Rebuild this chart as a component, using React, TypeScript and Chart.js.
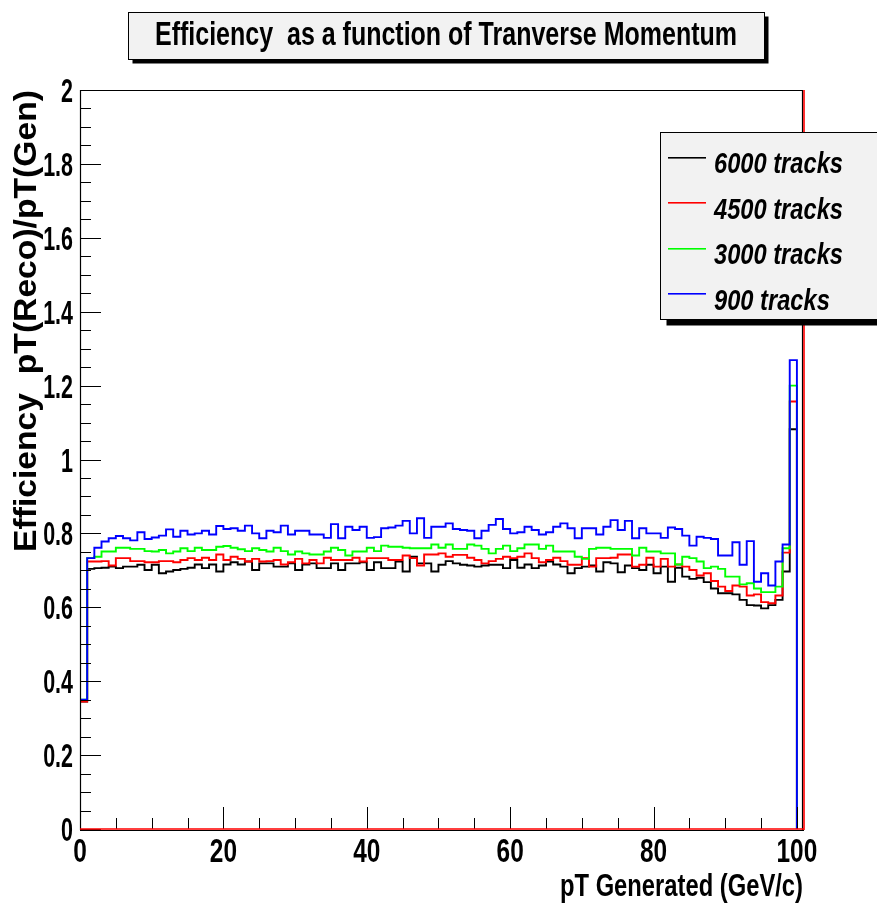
import React, { useEffect, useRef } from "react";
import { Chart, registerables } from "chart.js";

Chart.register(...registerables);

// ---------- data ----------
const seriesLabels = ["6000 tracks", "4500 tracks", "3000 tracks", "900 tracks"];
const seriesColors = ["#000000", "#ff0000", "#00ff00", "#0000ff"];

// efficiency per 1 GeV/c bin, bins 0..99
const eff6000 = [
  0.345, 0.704, 0.706, 0.707, 0.710, 0.706, 0.710, 0.710, 0.715, 0.701,
  0.715, 0.692, 0.697, 0.701, 0.704, 0.707, 0.716, 0.706, 0.716, 0.697,
  0.716, 0.722, 0.716, 0.724, 0.701, 0.719, 0.719, 0.710, 0.710, 0.719,
  0.701, 0.716, 0.719, 0.706, 0.706, 0.719, 0.701, 0.719, 0.719, 0.722,
  0.701, 0.722, 0.706, 0.706, 0.724, 0.697, 0.737, 0.719, 0.719, 0.697,
  0.715, 0.725, 0.719, 0.715, 0.713, 0.710, 0.713, 0.715, 0.715, 0.706,
  0.728, 0.707, 0.716, 0.706, 0.713, 0.724, 0.716, 0.710, 0.692, 0.706,
  0.710, 0.713, 0.697, 0.722, 0.719, 0.695, 0.713, 0.706, 0.701, 0.715,
  0.692, 0.710, 0.669, 0.707, 0.683, 0.677, 0.680, 0.668, 0.651, 0.638,
  0.638, 0.635, 0.620, 0.606, 0.605, 0.597, 0.606, 0.620, 0.697, 1.082,
];
const eff4500 = [
  0.345, 0.724, 0.724, 0.725, 0.713, 0.733, 0.733, 0.725, 0.725, 0.722,
  0.722, 0.725, 0.725, 0.722, 0.728, 0.733, 0.728, 0.734, 0.728, 0.743,
  0.728, 0.737, 0.731, 0.724, 0.731, 0.724, 0.725, 0.728, 0.716, 0.722,
  0.731, 0.719, 0.728, 0.719, 0.734, 0.728, 0.728, 0.728, 0.734, 0.724,
  0.733, 0.733, 0.733, 0.728, 0.728, 0.740, 0.733, 0.713, 0.743, 0.743,
  0.746, 0.737, 0.742, 0.742, 0.734, 0.728, 0.719, 0.725, 0.731, 0.737,
  0.733, 0.737, 0.746, 0.733, 0.722, 0.728, 0.734, 0.725, 0.715, 0.715,
  0.733, 0.710, 0.733, 0.733, 0.734, 0.743, 0.743, 0.710, 0.715, 0.734,
  0.710, 0.731, 0.710, 0.716, 0.710, 0.701, 0.686, 0.692, 0.671, 0.656,
  0.644, 0.659, 0.656, 0.632, 0.635, 0.614, 0.611, 0.632, 0.748, 1.157,
];
const eff3000 = [
  0.350, 0.733, 0.737, 0.751, 0.751, 0.761, 0.761, 0.758, 0.758, 0.752,
  0.751, 0.755, 0.746, 0.751, 0.760, 0.752, 0.761, 0.755, 0.755, 0.764,
  0.766, 0.761, 0.757, 0.752, 0.760, 0.755, 0.751, 0.761, 0.752, 0.743,
  0.751, 0.746, 0.743, 0.743, 0.751, 0.761, 0.755, 0.740, 0.751, 0.751,
  0.761, 0.752, 0.767, 0.764, 0.764, 0.761, 0.760, 0.760, 0.760, 0.770,
  0.761, 0.770, 0.758, 0.758, 0.770, 0.767, 0.758, 0.746, 0.758, 0.767,
  0.752, 0.760, 0.770, 0.770, 0.758, 0.767, 0.751, 0.751, 0.751, 0.737,
  0.731, 0.758, 0.761, 0.761, 0.758, 0.758, 0.758, 0.740, 0.761, 0.751,
  0.751, 0.746, 0.746, 0.716, 0.737, 0.733, 0.724, 0.706, 0.710, 0.704,
  0.683, 0.683, 0.662, 0.665, 0.651, 0.641, 0.641, 0.656, 0.760, 1.200,
];
const eff900 = [
  0.350, 0.733, 0.761, 0.778, 0.787, 0.793, 0.787, 0.781, 0.803, 0.785,
  0.789, 0.794, 0.811, 0.791, 0.807, 0.797, 0.800, 0.807, 0.797, 0.820,
  0.812, 0.814, 0.807, 0.821, 0.800, 0.787, 0.807, 0.803, 0.821, 0.797,
  0.807, 0.807, 0.797, 0.797, 0.788, 0.825, 0.787, 0.818, 0.809, 0.818,
  0.788, 0.790, 0.814, 0.816, 0.821, 0.834, 0.800, 0.841, 0.788, 0.818,
  0.818, 0.827, 0.812, 0.809, 0.807, 0.787, 0.807, 0.823, 0.839, 0.812,
  0.800, 0.803, 0.818, 0.809, 0.797, 0.803, 0.818, 0.827, 0.814, 0.787,
  0.814, 0.814, 0.797, 0.818, 0.836, 0.809, 0.834, 0.787, 0.814, 0.800,
  0.800, 0.788, 0.816, 0.812, 0.794, 0.767, 0.791, 0.788, 0.785, 0.740,
  0.740, 0.776, 0.715, 0.779, 0.669, 0.692, 0.659, 0.724, 0.770, 1.269,
];

const xTickValues = [0, 20, 40, 60, 80, 100];
const yTickValues = [0, 0.2, 0.4, 0.6, 0.8, 1, 1.2, 1.4, 1.6, 1.8, 2];
const xAxisMax = 100.85;

const titleText = "Efficiency  as a function of Tranverse Momentum";
const xTitleText = "pT Generated (GeV/c)";
const yTitleText = "Efficiency  pT(Reco)/pT(Gen)";

// ---------- helpers ----------
const FONT_SANS = "'Liberation Sans',Arial,'DejaVu Sans',sans-serif";
const TICK_FONT = `bold 33px ${FONT_SANS}`;
const Y_TICK_SCALE = 0.65;
const X_TICK_SCALE = 0.74;

function toSteps(values: number[]) {
  const pts: { x: number; y: number }[] = [{ x: 0, y: 0 }];
  values.forEach((v, i) => pts.push({ x: i, y: v }));
  pts.push({ x: values.length, y: 0 });
  return pts;
}

function fmtTick(v: number) {
  return String(Number(v.toFixed(2)));
}

function fitText(
  ctx: CanvasRenderingContext2D,
  text: string,
  x: number,
  y: number,
  width: number,
  font: string,
  align: "left" | "right" | "center" = "left"
) {
  ctx.save();
  ctx.font = font;
  const w = ctx.measureText(text).width;
  const s = width / w;
  ctx.translate(x, y);
  ctx.scale(s, 1);
  ctx.textAlign = "left";
  ctx.textBaseline = "alphabetic";
  const x0 = align === "right" ? -w : align === "center" ? -w / 2 : 0;
  ctx.fillText(text, x0, 0);
  ctx.restore();
}

function scaledText(
  ctx: CanvasRenderingContext2D,
  text: string,
  x: number,
  y: number,
  sx: number,
  font: string,
  align: "left" | "right" | "center"
) {
  ctx.save();
  ctx.font = font;
  const w = ctx.measureText(text).width;
  fitText(ctx, text, x, y, w * sx, font, align);
  ctx.restore();
}

const rootDecor = {
  id: "rootDecor",
  beforeDraw(chart: any) {
    const { ctx, width, height } = chart;
    ctx.save();
    ctx.fillStyle = "#ffffff";
    ctx.fillRect(0, 0, width, height);
    ctx.restore();
  },
  afterDraw(chart: any) {
    const { ctx, chartArea: a } = chart;
    const xs = chart.scales.x;
    const ys = chart.scales.y;
    ctx.save();

    // ticks inside the frame
    ctx.strokeStyle = "#000";
    ctx.lineWidth = 1;
    ctx.beginPath();
    for (let k = 0; k <= 40; k++) {
      const py = Math.round(ys.getPixelForValue(k * 0.05)) + 0.5;
      const len = k % 4 === 0 ? 21 : 11;
      ctx.moveTo(a.left, py);
      ctx.lineTo(a.left + len, py);
    }
    for (let k = 0; k <= 20; k++) {
      const px = Math.round(xs.getPixelForValue(k * 5)) + 0.5;
      const len = k % 4 === 0 ? 22 : 11;
      ctx.moveTo(px, a.bottom);
      ctx.lineTo(px, a.bottom - len);
    }
    ctx.stroke();

    // frame
    ctx.lineWidth = 1.2;
    ctx.strokeStyle = "#000";
    ctx.beginPath();
    ctx.moveTo(a.left + 0.5, a.bottom + 1);
    ctx.lineTo(a.left + 0.5, a.top + 0.5);
    ctx.lineTo(a.right - 0.5, a.top + 0.5);
    ctx.lineTo(a.right - 0.5, a.bottom + 1);
    ctx.moveTo(a.left, a.bottom + 1.5);
    ctx.lineTo(a.right + 1, a.bottom + 1.5);
    ctx.stroke();
    ctx.strokeStyle = "#ff0000";
    ctx.lineWidth = 1.6;
    ctx.beginPath();
    ctx.moveTo(a.right + 1, a.top);
    ctx.lineTo(a.right + 1, a.bottom + 1);
    ctx.moveTo(a.left, a.bottom);
    ctx.lineTo(a.right + 1.5, a.bottom);
    ctx.stroke();

    // tick labels
    ctx.fillStyle = "#000";
    ys.ticks.forEach((t: any) => {
      const py = ys.getPixelForValue(t.value);
      scaledText(ctx, fmtTick(t.value), a.left - 7, py + 12, Y_TICK_SCALE, TICK_FONT, "right");
    });
    xs.ticks.forEach((t: any) => {
      const px = xs.getPixelForValue(t.value);
      scaledText(ctx, fmtTick(t.value), px, a.bottom + 33, X_TICK_SCALE, TICK_FONT, "center");
    });

    // x axis title (right aligned at frame end)
    fitText(ctx, xTitleText, a.right, 896, 243, `bold 31px ${FONT_SANS}`, "right");

    // y axis title (rotated, top aligned at frame top)
    ctx.save();
    ctx.translate(36, 552);
    ctx.rotate(-Math.PI / 2);
    fitText(ctx, yTitleText, 0, 0, 462, `bold 31px ${FONT_SANS}`, "left");
    ctx.restore();

    // title box
    const tb = { x: 128.5, y: 12.5, w: 636, h: 47 };
    ctx.fillStyle = "#000";
    ctx.fillRect(tb.x + 4, tb.y + 4, tb.w, tb.h);
    ctx.fillStyle = "#f2f2f2";
    ctx.fillRect(tb.x, tb.y, tb.w, tb.h);
    ctx.strokeStyle = "#000";
    ctx.lineWidth = 1;
    ctx.strokeRect(tb.x, tb.y, tb.w, tb.h);
    ctx.fillStyle = "#000";
    fitText(ctx, titleText, 155, 45, 582, `bold 34px ${FONT_SANS}`, "left");

    // legend
    const lb = { x: 660.5, y: 132.5, w: 230, h: 187 };
    ctx.fillStyle = "#000";
    ctx.fillRect(lb.x + 6, lb.y + 6, lb.w, lb.h);
    ctx.fillStyle = "#f2f2f2";
    ctx.fillRect(lb.x, lb.y, lb.w, lb.h);
    ctx.strokeStyle = "#000";
    ctx.lineWidth = 1;
    ctx.strokeRect(lb.x, lb.y, lb.w, lb.h);

    const legFont = `italic bold 30px ${FONT_SANS}`;
    ctx.font = legFont;
    const refW = ctx.measureText(seriesLabels[0]).width;
    const legScale = 129 / refW;
    const dsets = chart.data.datasets;
    for (let i = 0; i < dsets.length; i++) {
      const base = 173.3 + i * 45.4;
      const ly = Math.round(base - 15.6);
      ctx.fillStyle = seriesColors[i];
      ctx.fillRect(668, ly - 1, 38, 1.6);
      ctx.fillStyle = "#000";
      scaledText(ctx, dsets[i].label, 714, base, legScale, legFont, "left");
    }
    ctx.restore();
  },
};

export default function App() {
  const canvasRef = useRef<HTMLCanvasElement | null>(null);

  useEffect(() => {
    const canvas = canvasRef.current;
    if (!canvas) return;
    const seriesData = [eff6000, eff4500, eff3000, eff900];
    const drawOrder = [3, 2, 1, 0];
    const chart = new Chart(canvas, {
      type: "line",
      data: {
        datasets: seriesData.map((vals, i) => ({
          label: seriesLabels[i],
          data: toSteps(vals),
          borderColor: seriesColors[i],
          backgroundColor: seriesColors[i],
          borderWidth: 1.9,
          pointRadius: 0,
          stepped: "before" as const,
          fill: false,
          order: drawOrder[i],
        })),
      },
      options: {
        responsive: false,
        animation: false,
        devicePixelRatio: 1,
        layout: { padding: { left: 0, top: 90, right: 74, bottom: 0 } },
        plugins: {
          legend: { display: false },
          title: { display: false },
          tooltip: { enabled: false },
        },
        scales: {
          x: {
            type: "linear",
            min: 0,
            max: xAxisMax,
            grid: { display: false, drawTicks: false },
            border: { display: false },
            afterBuildTicks: (s: any) => {
              s.ticks = xTickValues.map((v) => ({ value: v }));
            },
            afterFit: (s: any) => {
              s.height = 75;
            },
            ticks: { display: false },
          },
          y: {
            type: "linear",
            min: 0,
            max: 2,
            grid: { display: false, drawTicks: false },
            border: { display: false },
            afterBuildTicks: (s: any) => {
              s.ticks = yTickValues.map((v) => ({ value: v }));
            },
            afterFit: (s: any) => {
              s.width = 80;
            },
            ticks: { display: false },
          },
        },
      },
      plugins: [rootDecor],
    });
    return () => chart.destroy();
  }, []);

  return (
    <div style={{ position: "fixed", left: 0, top: 0, width: 877, height: 904, background: "#fff" }}>
      <canvas ref={canvasRef} width={877} height={904} style={{ display: "block" }} />
    </div>
  );
}
